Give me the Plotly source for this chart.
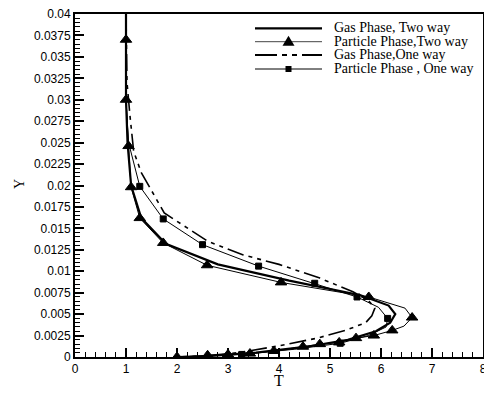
import plotly.graph_objects as go

# Gas Phase, Two way (thick solid)
gas2_T = [1.0, 1.0, 1.03, 1.1, 1.3, 1.78, 2.8, 4.2, 5.6, 6.15, 6.28, 6.18, 5.9, 5.35, 4.55, 3.55, 2.6, 2.0]
gas2_Y = [0.04, 0.03, 0.025, 0.02, 0.0162, 0.0132, 0.0108, 0.0089, 0.0072, 0.006, 0.005, 0.004, 0.003, 0.002, 0.0012, 0.0005, 0.0001, 0.0]

# Particle Phase, Two way (thin, triangles)
par2_T = [1.0, 1.0, 1.0, 1.05, 1.1, 1.27, 1.73, 2.59, 4.04, 5.76, 6.47, 6.61, 6.45, 6.22, 5.86, 5.51, 5.18, 4.80, 4.47, 3.90, 3.43, 3.0, 2.6, 2.0]
par2_Y = [0.04, 0.037, 0.030, 0.0246, 0.0198, 0.0162, 0.0133, 0.0107, 0.0087, 0.0070, 0.0057, 0.0046, 0.0036, 0.0031, 0.0025, 0.0022, 0.0017, 0.0015, 0.0012, 0.0007, 0.0004, 0.0003, 0.0002, 0.0]
par2_marker = [False, True, True, True, True, True, True, True, True, True, False, True, False, True, True, True, True, True, True, True, True, True, True, True]

# Gas Phase, One way (dash-dot)
gas1_T = [1.0, 1.02, 1.08, 1.15, 1.3, 1.75, 2.6, 3.3, 4.0, 4.8, 5.45, 5.75, 5.88, 5.82, 5.7, 5.3, 4.75, 4.0, 3.2, 2.5, 2.0]
gas1_Y = [0.04, 0.032, 0.028, 0.024, 0.0215, 0.0168, 0.0135, 0.0119, 0.0108, 0.0092, 0.0076, 0.0066, 0.0057, 0.0048, 0.004, 0.0031, 0.0022, 0.0013, 0.0005, 0.0001, 0.0]

# Particle Phase, One way (thin, squares)
par1_T = [1.0, 1.0, 1.05, 1.27, 1.73, 2.5, 3.6, 4.7, 5.53, 5.95, 6.13, 6.1, 5.75, 5.2, 4.3, 3.27, 2.5, 2.0]
par1_Y = [0.04, 0.03, 0.025, 0.0199, 0.0161, 0.0131, 0.0106, 0.0086, 0.0070, 0.0058, 0.0045, 0.0035, 0.0025, 0.0016, 0.0009, 0.0003, 0.0001, 0.0]
par1_marker = [False, False, False, True, True, True, True, True, True, False, True, False, False, True, False, True, False, False]

series_names = ["Gas Phase, Two way", "Particle Phase,Two way", "Gas Phase,One way", "Particle Phase , One way"]

x_ticks = [0, 1, 2, 3, 4, 5, 6, 7, 8]
y_ticks = [0, 0.0025, 0.005, 0.0075, 0.01, 0.0125, 0.015, 0.0175, 0.02, 0.0225,
           0.025, 0.0275, 0.03, 0.0325, 0.035, 0.0375, 0.04]
y_labels = ["0", "0.0025", "0.005", "0.0075", "0.01", "0.0125", "0.015", "0.0175", "0.02",
            "0.0225", "0.025", "0.0275", "0.03", "0.0325", "0.035", "0.0375", "0.04"]

DASHDOT = "17px,5px,4px,5px,4px,5px"
# page has an 8px body margin; figure is sized so the plot area lands at page x 75..483, y 14..357
OFF = 8
W, H = 484, 388
ML, MR, MT, MB = 75 - OFF, 9, 14 - OFF, 39
PW, PH = W - ML - MR, H - MT - MB


def fx(px):
    # px given in page pixels
    return (px - OFF - ML) / PW


def fy(py):
    return (H - MB - (py - OFF)) / PH


fig = go.Figure()

fig.add_trace(go.Scatter(x=gas2_T, y=gas2_Y, mode="lines", name=series_names[0],
                         line=dict(color="black", width=2.2)))

fig.add_trace(go.Scatter(x=par2_T, y=par2_Y, mode="lines+markers", name=series_names[1],
                         line=dict(color="black", width=1),
                         marker=dict(symbol="triangle-up", size=[10 if m else 0 for m in par2_marker],
                                     color="black", opacity=1, line=dict(width=1, color="black"))))

fig.add_trace(go.Scatter(x=gas1_T, y=gas1_Y, mode="lines", name=series_names[2],
                         line=dict(color="black", width=1.6, dash=DASHDOT)))

fig.add_trace(go.Scatter(x=par1_T, y=par1_Y, mode="lines+markers", name=series_names[3],
                         line=dict(color="black", width=1),
                         marker=dict(symbol="square", size=[6 if m else 0 for m in par1_marker],
                                     color="black", opacity=1, line=dict(width=1, color="black"))))

# manual legend
rows_py = [28.3, 41.7, 55.0, 69.0]
line_styles = [dict(color="black", width=2.2), dict(color="#444", width=1),
               dict(color="black", width=1.8, dash="22px,5px,5px,5px,5px,5px"), dict(color="black", width=1)]
shapes = []
annotations = []
for name, py, ls in zip(series_names, rows_py, line_styles):
    shapes.append(dict(type="line", xref="paper", yref="paper", x0=fx(255), x1=fx(322),
                       y0=fy(py), y1=fy(py), line=ls))
    annotations.append(dict(text=name, xref="paper", yref="paper", x=fx(332), y=fy(py - 0.5),
                            xanchor="left", yanchor="middle", showarrow=False,
                            font=dict(family="Liberation Serif", size=14, color="black")))
# legend markers
shapes.append(dict(type="path", xref="paper", yref="paper", xsizemode="pixel", ysizemode="pixel",
                   xanchor=fx(288.5), yanchor=fy(rows_py[1]),
                   path="M -6,-4 L 6,-4 L 0,6 Z", fillcolor="black", line=dict(width=0)))
shapes.append(dict(type="path", xref="paper", yref="paper", xsizemode="pixel", ysizemode="pixel",
                   xanchor=fx(288.5), yanchor=fy(rows_py[3]),
                   path="M -3,-3 L 3,-3 L 3,3 L -3,3 Z", fillcolor="black", line=dict(width=0)))

# axis titles
annotations.append(dict(text="T", xref="paper", yref="paper", x=fx(279), y=fy(380),
                        xanchor="center", yanchor="middle", showarrow=False,
                        font=dict(family="Liberation Serif", size=16, color="black")))
annotations.append(dict(text="Y", xref="paper", yref="paper", x=fx(19), y=fy(184),
                        xanchor="center", yanchor="middle", showarrow=False, textangle=-90,
                        font=dict(family="Liberation Serif", size=14, color="black")))

fig.update_layout(
    width=W, height=H,
    margin=dict(l=ML, r=MR, t=MT, b=MB, autoexpand=False),
    paper_bgcolor="white", plot_bgcolor="white",
    showlegend=False,
    shapes=shapes, annotations=annotations,
    font=dict(family="Liberation Sans", size=12, color="black"),
)

fig.update_xaxes(range=[0, 8], tickvals=x_ticks, ticktext=[str(v) for v in x_ticks],
                 ticks="inside", ticklen=9, tickwidth=2, tickcolor="black",
                 minor=dict(dtick=0.2, ticks="inside", ticklen=5, tickwidth=1, tickcolor="black"),
                 showline=True, linecolor="black", linewidth=2, mirror=True,
                 showgrid=False, zeroline=False, automargin=False, ticklabeloverflow="allow")

fig.update_yaxes(range=[0, 0.04], tickvals=y_ticks, ticktext=y_labels,
                 ticks="inside", ticklen=9, tickwidth=2, tickcolor="black",
                 minor=dict(dtick=0.0005, ticks="inside", ticklen=5, tickwidth=1, tickcolor="black"),
                 showline=True, linecolor="black", linewidth=2, mirror=True,
                 showgrid=False, zeroline=False, automargin=False, ticklabeloverflow="allow")

fig.write_html("out.html")
